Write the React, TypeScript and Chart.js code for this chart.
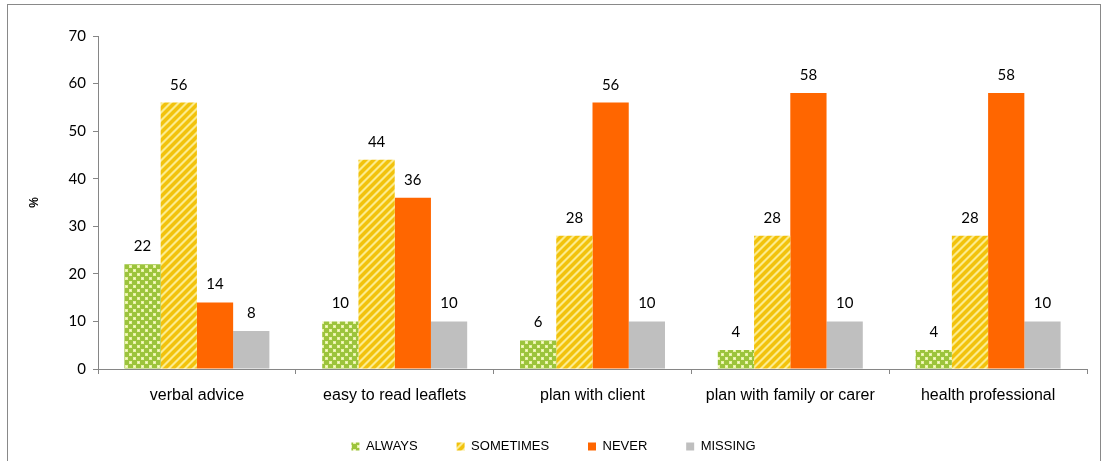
import { useEffect, useRef } from "react";
import { Chart, registerables } from "chart.js";

Chart.register(...registerables);

const categories = [
  "verbal advice",
  "easy to read leaflets",
  "plan with client",
  "plan with family or carer",
  "health professional",
];
const alwaysValues = [22, 10, 6, 4, 4];
const sometimesValues = [56, 44, 28, 28, 28];
const neverValues = [14, 36, 56, 58, 58];
const missingValues = [8, 10, 10, 10, 10];
const seriesNames = ["ALWAYS", "SOMETIMES", "NEVER", "MISSING"];
const yMax = 70;
const yStep = 10;

// Green confetti fill: light squares on a staggered grid
function confettiPattern(ctx: CanvasRenderingContext2D): CanvasPattern | string {
  const tile = document.createElement("canvas");
  tile.width = 8;
  tile.height = 8;
  const t = tile.getContext("2d");
  if (!t) return "#9CC43C";
  t.fillStyle = "#9CC43C";
  t.fillRect(0, 0, 8, 8);
  t.fillStyle = "#E9F2A6";
  t.fillRect(1, 1, 3, 3);
  t.fillRect(5, 5, 3, 3);
  t.fillStyle = "#F8FBDD";
  t.fillRect(2, 2, 1, 1);
  t.fillRect(6, 6, 1, 1);
  return ctx.createPattern(tile, "repeat") || "#9CC43C";
}

// Yellow fill with light upward diagonal stripes
function stripePattern(ctx: CanvasRenderingContext2D): CanvasPattern | string {
  const size = 8;
  const tile = document.createElement("canvas");
  tile.width = size;
  tile.height = size;
  const t = tile.getContext("2d");
  if (!t) return "#F2C20C";
  for (let y = 0; y < size; y++) {
    for (let x = 0; x < size; x++) {
      const k = (x + y) % size;
      t.fillStyle = k < 2 ? "#FCEB8E" : k === 2 || k === 7 ? "#F7D84A" : "#F2C20C";
      t.fillRect(x, y, 1, 1);
    }
  }
  return ctx.createPattern(tile, "repeat") || "#F2C20C";
}

const frame = {
  id: "frame",
  beforeDraw(chart: Chart) {
    const ctx = chart.ctx;
    ctx.save();
    ctx.fillStyle = "#ffffff";
    ctx.fillRect(0, 0, chart.width, chart.height);
    ctx.strokeStyle = "#898989";
    ctx.lineWidth = 1;
    ctx.strokeRect(7.5, 4.5, 1093, 470);
    ctx.restore();
  },
};

const valueLabels = {
  id: "valueLabels",
  afterDatasetsDraw(chart: Chart) {
    const ctx = chart.ctx;
    ctx.save();
    ctx.font = "15px Lato";
    ctx.fillStyle = "#000000";
    ctx.textAlign = "center";
    ctx.textBaseline = "alphabetic";
    chart.data.datasets.forEach((ds, i) => {
      const meta = chart.getDatasetMeta(i);
      meta.data.forEach((bar: any, j: number) => {
        const v = ds.data[j] as number;
        ctx.fillText(String(v), bar.x, bar.y - 13);
      });
    });
    ctx.restore();
  },
};

// Extra trailing space after every legend entry but the last widens the gaps
const legendGap = " ".repeat(8);

export default function App() {
  const ref = useRef<HTMLCanvasElement>(null);

  useEffect(() => {
    const canvas = ref.current;
    if (!canvas) return;
    const ctx = canvas.getContext("2d");
    if (!ctx) return;
    const axisColor = "#868686";
    const defaultLabels = Chart.defaults.plugins.legend.labels.generateLabels;

    const chart = new Chart(canvas, {
      type: "bar",
      data: {
        labels: categories,
        datasets: [
          { label: seriesNames[0], data: alwaysValues, backgroundColor: confettiPattern(ctx) },
          { label: seriesNames[1], data: sometimesValues, backgroundColor: stripePattern(ctx) },
          { label: seriesNames[2], data: neverValues, backgroundColor: "#FF6600" },
          { label: seriesNames[3], data: missingValues, backgroundColor: "#BFBFBF" },
        ],
      },
      options: {
        responsive: false,
        animation: false,
        datasets: {
          bar: {
            categoryPercentage: 0.733,
            barPercentage: 1.0,
            borderWidth: 0,
          },
        },
        layout: { padding: { top: 36, left: 20, right: 16, bottom: -2 } },
        plugins: {
          tooltip: { enabled: false },
          legend: {
            position: "bottom",
            labels: {
              boxWidth: 8,
              boxHeight: 8,
              padding: 10,
              color: "#000000",
              font: { family: "'Liberation Sans', Arial", size: 13 },
              generateLabels(c: Chart) {
                const items = defaultLabels(c);
                return items.map((it: any, i: number) => ({
                  ...it,
                  text: i < items.length - 1 ? it.text + legendGap : it.text,
                }));
              },
            },
          },
        },
        scales: {
          x: {
            grid: {
              drawOnChartArea: false,
              drawTicks: true,
              tickLength: 5,
              color: axisColor,
            },
            border: { color: axisColor },
            ticks: {
              color: "#000000",
              padding: 12,
              maxRotation: 0,
              font: { family: "'Liberation Sans', Arial", size: 16 },
            },
            afterFit(scale: any) {
              scale.height = 61;
            },
          },
          y: {
            min: 0,
            max: yMax,
            ticks: {
              stepSize: yStep,
              color: "#000000",
              padding: 7,
              font: { family: "Lato", size: 15 },
            },
            grid: {
              drawOnChartArea: false,
              drawTicks: true,
              tickLength: 5,
              color: axisColor,
            },
            border: { color: axisColor },
            title: {
              display: true,
              text: "%",
              color: "#000000",
              padding: { top: 7, bottom: 0 },
              font: { family: "'Liberation Sans', Arial", size: 12, weight: "bold" },
            },
            afterFit(scale: any) {
              scale.width = 78;
            },
          },
        },
      },
      plugins: [frame, valueLabels],
    });

    return () => chart.destroy();
  }, []);

  return (
    <div style={{ position: "fixed", left: 0, top: 0, width: 1103, height: 461, background: "#fff" }}>
      <canvas ref={ref} width={1103} height={461} style={{ display: "block" }} />
    </div>
  );
}
